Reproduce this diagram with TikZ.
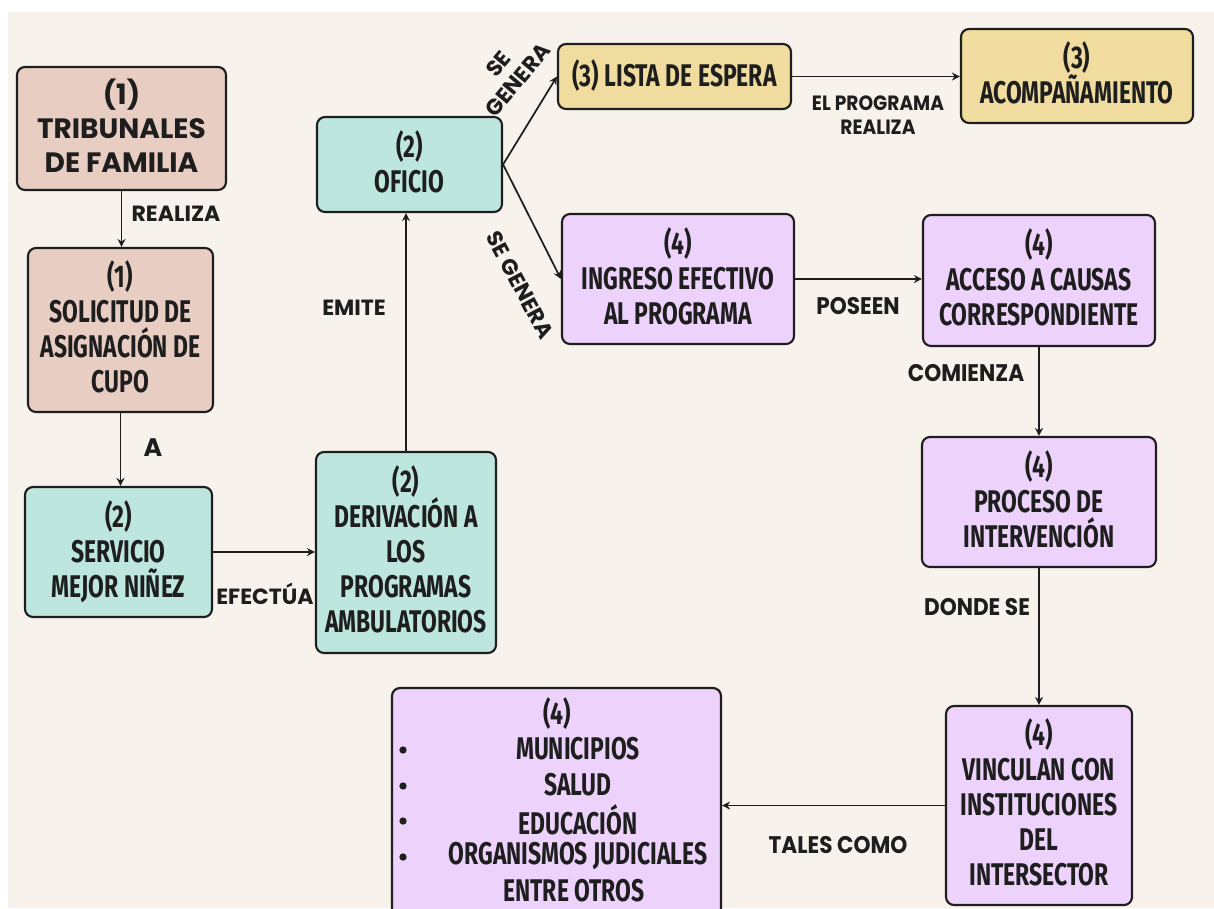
\documentclass[tikz,border=0pt]{standalone}
\usepackage{fontspec}
\usetikzlibrary{arrows.meta}
\newfontfamily\boxf[FakeStretch=0.73]{Fira Sans}
\newfontfamily\popf{Poppins}
\newfontfamily\narf[FakeStretch=0.9]{Poppins}
\definecolor{bgc}{HTML}{F7F2EB}
\definecolor{pinkc}{HTML}{E8CDC3}
\definecolor{tealc}{HTML}{BDE6DE}
\definecolor{yelc}{HTML}{F0DC9E}
\definecolor{lavc}{HTML}{EDD3FC}
\definecolor{inkc}{HTML}{1E1E1E}
\tikzset{
  box/.style={draw=inkc, line width=1.6pt, rounded corners=6pt, align=center, inner sep=0pt,
    text=inkc, text depth=4.5pt, font=\boxf\bfseries\fontsize{23.5}{26.25}\selectfont},
  pinkbox/.style={box, fill=pinkc},
  tealbox/.style={box, fill=tealc},
  yelbox/.style={box, fill=yelc},
  lavbox/.style={box, fill=lavc},
  arr/.style={draw=inkc, line width=1.3pt, -{Stealth[length=6pt,width=6pt]}},
  lbl/.style={text=inkc, inner sep=0pt, align=center, font=\popf\bfseries\fontsize{16.5}{19}\selectfont},
  nlbl/.style={text=inkc, inner sep=0pt, align=center, font=\narf\bfseries\fontsize{18}{19}\selectfont},
  itemtxt/.style={text=inkc, inner sep=0pt, font=\boxf\bfseries\fontsize{23.5}{26.25}\selectfont},
  bullet/.style={circle, fill=inkc, inner sep=0pt, minimum size=5.5pt}
}
\begin{document}
\begin{tikzpicture}[x=0.75pt,y=-0.75pt]
\useasboundingbox (0,0) rectangle (1214,908);
\clip (0,0) rectangle (1214,908);
\fill[white] (0,0) rectangle (1214,908);
\fill[bgc] (8,12) rectangle (1214,908);

% boxes
\node[pinkbox, minimum width=209*0.75pt, minimum height=123*0.75pt,
  font=\popf\bfseries\fontsize{21}{25.5}\selectfont] (trib) at (121.5,128.5) {(1)\\TRIBUNALES\\DE FAMILIA};
\node[pinkbox, minimum width=185*0.75pt, minimum height=164*0.75pt] (sol) at (120.5,330) {(1)\\SOLICITUD DE\\ASIGNACIÓN DE\\CUPO};
\node[tealbox, minimum width=187*0.75pt, minimum height=130*0.75pt] (serv) at (118.5,552) {(2)\\SERVICIO\\MEJOR NIÑEZ};
\node[tealbox, minimum width=180*0.75pt, minimum height=201*0.75pt] (der) at (406,552.5) {(2)\\DERIVACIÓN A\\LOS\\PROGRAMAS\\AMBULATORIOS};
\node[tealbox, minimum width=185*0.75pt, minimum height=95*0.75pt] (ofi) at (409.5,164.5) {(2)\\OFICIO};
\node[yelbox, minimum width=233*0.75pt, minimum height=65*0.75pt] (lista) at (674.5,76.5) {(3) LISTA DE ESPERA};
\node[yelbox, minimum width=232*0.75pt, minimum height=94*0.75pt] (acomp) at (1077,76) {(3)\\ACOMPAÑAMIENTO};
\node[lavbox, minimum width=232*0.75pt, minimum height=130*0.75pt] (ing) at (678,279) {(4)\\INGRESO EFECTIVO\\AL PROGRAMA};
\node[lavbox, minimum width=232*0.75pt, minimum height=131*0.75pt] (acc) at (1039,280.5) {(4)\\ACCESO A CAUSAS\\CORRESPONDIENTE};
\node[lavbox, minimum width=234*0.75pt, minimum height=130*0.75pt] (proc) at (1039,502) {(4)\\PROCESO DE\\INTERVENCIÓN};
\node[lavbox, minimum width=186*0.75pt, minimum height=199*0.75pt] (vinc) at (1039,805.5) {(4)\\VINCULAN CON\\INSTITUCIONES\\DEL\\INTERSECTOR};
\node[lavbox, minimum width=329*0.75pt, minimum height=250*0.75pt] (mun) at (556.5,813) {};

% list inside mun
\node[itemtxt] (m0) at (557,714) {(4)};
\node[itemtxt] (m1) at (578,749) {MUNICIPIOS};
\node[itemtxt] (m2) at (578,785) {SALUD};
\node[itemtxt] (m3) at (578,820) {EDUCACIÓN};
\node[itemtxt] (m4) at (578,856) {ORGANISMOS JUDICIALES};
\node[itemtxt] (m5) at (574,891) {ENTRE OTROS};
\foreach \yy/\nm in {750/b1,786/b2,821/b3,857/b4}{
  \node[bullet] (\nm) at (403,\yy) {};
}

% connectors
\draw[arr] (trib.south) -- (trib.south |- sol.north);
\draw[arr] (sol.south) -- (sol.south |- serv.north);
\draw[arr] (serv.east) -- (serv.east -| der.west);
\draw[arr] (der.north) -- (der.north |- ofi.south);
\draw[arr] (ofi.east) -- (lista.west);
\draw[arr] (ofi.east) -- (ing.west);
\draw[arr] (lista.east) -- (lista.east -| acomp.west);
\draw[arr] (ing.east) -- (ing.east -| acc.west);
\draw[arr] (acc.south) -- (acc.south |- proc.north);
\draw[arr] (proc.south) -- (proc.south |- vinc.north);
\draw[arr] (vinc.west) -- (vinc.west -| mun.east);

% labels
\node[lbl] (l1) at (176,214) {REALIZA};
\node[lbl, font=\popf\bfseries\fontsize{19}{19}\selectfont] (l2) at (153,448) {A};
\node[lbl] (l3) at (265,594) {EFECTÚA};
\node[lbl] (l4) at (354,308) {EMITE};
\node[lbl, rotate=50] (l5) at (508,72) {SE\\GENERA};
\node[lbl, rotate=-62] (l6) at (520,285) {SE GENERA};
\node[nlbl, font=\narf\bfseries\fontsize{15.5}{18}\selectfont] (l7) at (878,115) {EL PROGRAMA\\REALIZA};
\node[nlbl] (l8) at (858,306) {POSEEN};
\node[nlbl] (l9) at (966,373) {COMIENZA};
\node[nlbl] (l10) at (977,607) {DONDE SE};
\node[nlbl] (l11) at (838,845) {TALES COMO};
\end{tikzpicture}
\end{document}
